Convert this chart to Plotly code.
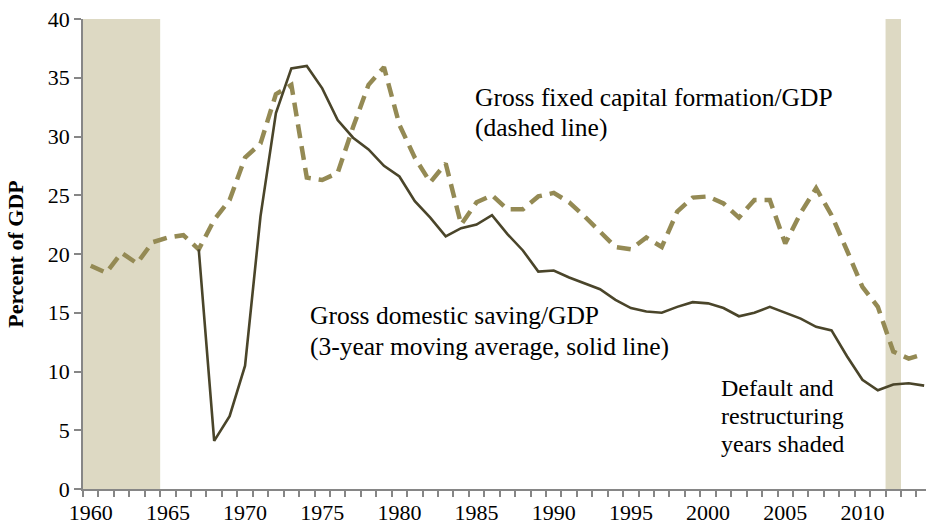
import plotly.graph_objects as go

# years on the category axis
years = list(range(1960, 2015))

# gross fixed capital formation / GDP (dashed), 1960-2014
gfcf = [
    19.0, 18.4, 20.1, 19.2, 21.0, 21.4, 21.6, 20.4, 22.9, 24.6,
    28.2, 29.4, 33.6, 34.4, 26.5, 26.3, 26.9, 30.8, 34.4, 35.9,
    31.0, 28.2, 26.1, 27.7, 22.5, 24.4, 25.0, 23.8, 23.8, 24.9,
    25.2, 24.4, 23.2, 21.9, 20.6, 20.4, 21.4, 20.6, 23.6, 24.8,
    24.9, 24.3, 23.1, 24.6, 24.6, 20.9, 23.5, 25.6, 23.3, 20.3,
    17.2, 15.5, 11.7, 11.1, 11.5,
]

# gross domestic saving / GDP, 3-year moving average (solid), 1967-2014
gds_years = list(range(1967, 2015))
gds = [
    20.4, 4.1, 6.2, 10.5, 23.2, 32.0, 35.8, 36.0, 34.1, 31.4,
    29.9, 28.9, 27.5, 26.6, 24.5, 23.1, 21.5, 22.2, 22.5, 23.3,
    21.7, 20.3, 18.5, 18.6, 18.0, 17.5, 17.0, 16.1, 15.4, 15.1,
    15.0, 15.5, 15.9, 15.8, 15.4, 14.7, 15.0, 15.5, 15.0, 14.5,
    13.8, 13.5, 11.3, 9.3, 8.4, 8.9, 9.0, 8.8,
]

# default / restructuring periods (first year, last year)
shaded_periods = [(1960, 1964), (2012, 2012)]

DASH_COL = "#948A54"
SOLID_COL = "#4A452A"
SHADE_COL = "#DDD9C3"
AXIS_COL = "#868686"
FONT = "Liberation Serif"

fig = go.Figure()

fig.add_trace(go.Scatter(
    x=years, y=gfcf, mode="lines",
    line=dict(color=DASH_COL, width=4.5, dash="14px,8px"),
    showlegend=False, hoverinfo="skip",
))
fig.add_trace(go.Scatter(
    x=gds_years, y=gds, mode="lines",
    line=dict(color=SOLID_COL, width=2.6),
    showlegend=False, hoverinfo="skip",
))

for start, end in shaded_periods:
    fig.add_shape(
        type="rect", xref="x", yref="y",
        x0=start - 0.5, x1=end + 0.5, y0=0, y1=40,
        fillcolor=SHADE_COL, line_width=0, layer="below",
    )

notes = [
    ("Gross fixed capital formation/GDP", 1984.78, 33.35, 25.5),
    ("(dashed line)", 1984.78, 30.8, 25.5),
    ("Gross domestic saving/GDP", 1974.11, 14.75, 25.5),
    ("(3-year moving average, solid line)", 1974.11, 12.1, 25.5),
    ("Default and", 2000.7, 8.6, 24),
    ("restructuring", 2000.7, 6.2, 24),
    ("years shaded", 2000.7, 3.8, 24),
]
for text, x, y, size in notes:
    fig.add_annotation(
        x=x, y=y, text=text, showarrow=False,
        xanchor="left", yanchor="middle",
        font=dict(family=FONT, size=size, color="#000000"),
    )

fig.update_layout(
    width=926, height=530,
    margin=dict(l=83, r=0, t=19, b=41),
    plot_bgcolor="white", paper_bgcolor="white",
    font=dict(family=FONT, color="#000000"),
    xaxis=dict(
        range=[1959.5, 2014.12],
        tickvals=list(range(1960, 2015, 5)),
        ticks="", ticklabelstandoff=3,
        tickfont=dict(family=FONT, size=22),
        showline=True, linecolor=AXIS_COL, linewidth=1.5,
        showgrid=False, zeroline=False, automargin=False,
        minor=dict(tick0=1959.5, dtick=1, ticks="outside",
                   ticklen=6, tickcolor=AXIS_COL, tickwidth=1.5,
                   showgrid=False),
    ),
    yaxis=dict(
        range=[0, 40], tickvals=list(range(0, 41, 5)),
        ticks="outside", ticklen=7, tickcolor=AXIS_COL, tickwidth=1.5,
        tickfont=dict(family=FONT, size=22),
        showline=True, linecolor=AXIS_COL, linewidth=1.5,
        showgrid=False, zeroline=False, automargin=False,
        title=dict(text="<b>Percent of GDP</b>",
                   font=dict(family=FONT, size=22), standoff=18),
    ),
)

# drop the page's default body margin so the chart sits at the window corner
fig.write_html(
    "out.html",
    config={"displayModeBar": False},
    post_script="document.body.style.margin='0';",
)
